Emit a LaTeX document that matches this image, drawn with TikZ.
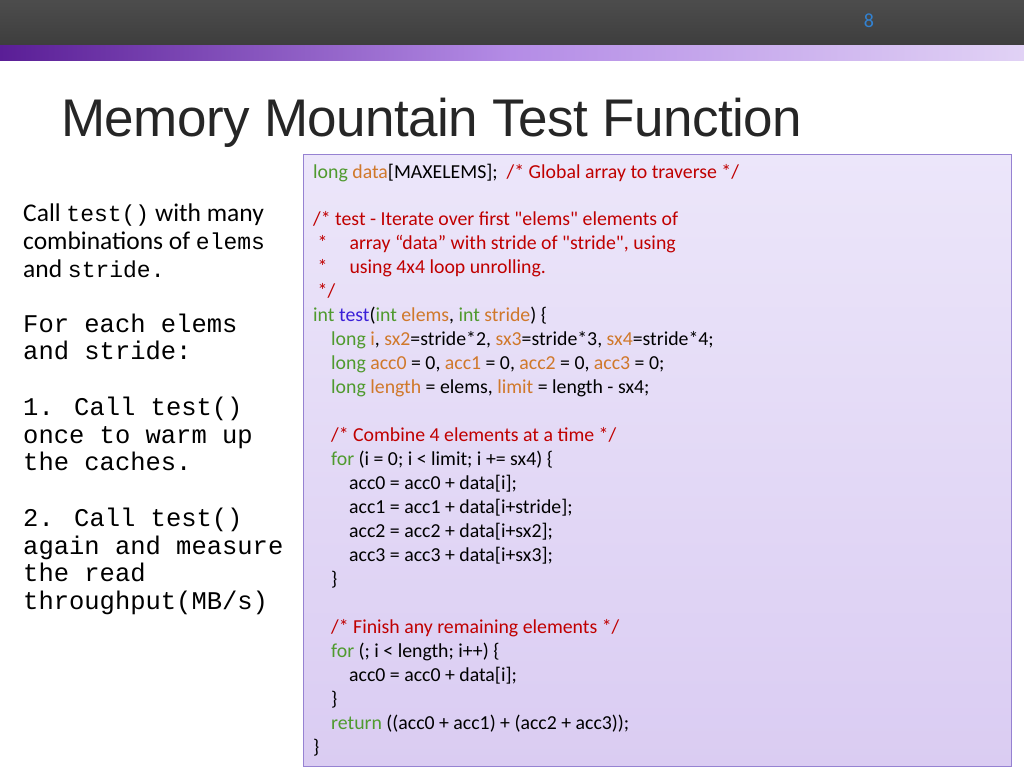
\documentclass[tikz,border=0pt]{standalone}
\usepackage{fontspec}
\setmainfont{Carlito}
\newfontfamily\plainf{Carlito}
\newfontfamily\titlefont{Liberation Sans}
\newfontfamily\monof{Liberation Mono}
\usetikzlibrary{positioning}
\definecolor{kw}{HTML}{4F9A2E}
\definecolor{id}{HTML}{D0782A}
\definecolor{cm}{HTML}{C00000}
\definecolor{fn}{HTML}{3A1FD8}
\tikzset{code/.style={anchor=base west,inner sep=0pt,font=\fontsize{19.8}{22}\selectfont},
 lt/.style={anchor=base west,inner sep=0pt,font=\fontsize{25.5}{28}\selectfont},
 mt/.style={anchor=base west,inner sep=0pt,font=\monof\fontsize{25.5}{28}\selectfont}}
\newcommand{\K}[1]{\textcolor{kw}{#1}}
\newcommand{\I}[1]{\textcolor{id}{#1}}
\newcommand{\C}[1]{\textcolor{cm}{#1}}
\newcommand{\Q}{{\plainf"}}
\begin{document}
\begin{tikzpicture}[x=1pt,y=-1pt]
\useasboundingbox (0,0) rectangle (1024,768);
\fill[white] (0,0) rectangle (1024,768);
\shade[top color=black!70,bottom color=black!76] (0,0) rectangle (1024,46);
\shade[left color={rgb,255:red,90;green,30;blue,150},right color={rgb,255:red,180;green,140;blue,230}] (0,46) rectangle (512,60);
\shade[left color={rgb,255:red,180;green,140;blue,230},right color={rgb,255:red,225;green,210;blue,245}] (512,46) rectangle (1024,60);
\node[anchor=base,inner sep=0pt,text={rgb,255:red,50;green,130;blue,210},font=\fontsize{20}{22}\selectfont] (pg) at (869,28) {8};
\node[anchor=base west,inner sep=0pt,font=\titlefont\fontsize{53}{58}\selectfont,text=black!85] (title) at (61,136) {\addfontfeature{LetterSpace=-1}Memory Mountain Test Function};
\shade[top color={rgb,255:red,236;green,230;blue,250},bottom color={rgb,255:red,218;green,204;blue,242},draw={rgb,255:red,150;green,130;blue,210}] (303,154) rectangle (1011,766);
\node[code] (c1) at (313,178) {\K{long} \I{data}[MAXELEMS];\ \ \C{/* Global array to traverse */}};
\node[code] (c2) at (313,225) {\C{/* test - Iterate over first \Q elems\Q{} elements of}};
\node[code] (c3) at (313,249) {\C{\ *\hspace{22pt}array “data” with stride of \Q stride\Q, using}};
\node[code] (c4) at (313,273) {\C{\ *\hspace{22pt}using 4x4 loop unrolling.}};
\node[code] (c5) at (313,297) {\C{\ */}};
\node[code] (c6) at (313,321) {\K{int} \textcolor{fn}{test}(\K{int} \I{elems}, \K{int} \I{stride}) \{};
\node[code] (c7) at (331,345) {\K{long} \I{i}, \I{sx2}=stride*2, \I{sx3}=stride*3, \I{sx4}=stride*4;};
\node[code] (c8) at (331,369) {\K{long} \I{acc0} = 0, \I{acc1} = 0, \I{acc2} = 0, \I{acc3} = 0;};
\node[code] (c9) at (331,393) {\K{long} \I{length} = elems, \I{limit} = length - sx4;};
\node[code] (c10) at (331,441) {\C{/* Combine 4 elements at a time */}};
\node[code] (c11) at (331,465) {\K{for} (i = 0; i < limit; i += sx4) \{};
\node[code] (c12) at (349,489) {acc0 = acc0 + data[i];};
\node[code] (c13) at (349,513) {acc1 = acc1 + data[i+stride];};
\node[code] (c14) at (349,537) {acc2 = acc2 + data[i+sx2];};
\node[code] (c15) at (349,561) {acc3 = acc3 + data[i+sx3];};
\node[code] (c16) at (331,585) {\}};
\node[code] (c17) at (331,633) {\C{/* Finish any remaining elements */}};
\node[code] (c18) at (331,657) {\K{for} (; i < length; i++) \{};
\node[code] (c19) at (349,681) {acc0 = acc0 + data[i];};
\node[code] (c20) at (331,705) {\}};
\node[code] (c21) at (331,729) {\K{return} ((acc0 + acc1) + (acc2 + acc3));};
\node[code] (c22) at (313,753) {\}};
\node[lt] (a1) at (23,221) {Call {\monof\fontsize{23}{26}\selectfont test()} with many};
\node[lt] (a2) at (23,249) {combinations of {\monof\fontsize{23}{26}\selectfont elems}};
\node[lt] (a3) at (23,277) {and {\monof\fontsize{23}{26}\selectfont stride.}};
\node[mt] (m1) at (23,332) {For each elems};
\node[mt] (m2) at (23,359) {and stride:};
\node[mt] (m3) at (23,415) {1. Call test()};
\node[mt] (m4) at (23,443) {once to warm up};
\node[mt] (m5) at (23,470) {the caches.};
\node[mt] (m6) at (23,526) {2. Call test()};
\node[mt] (m7) at (23,554) {again and measure};
\node[mt] (m8) at (23,581) {the read};
\node[mt] (m9) at (23,609) {throughput(MB/s)};
\end{tikzpicture}
\end{document}
